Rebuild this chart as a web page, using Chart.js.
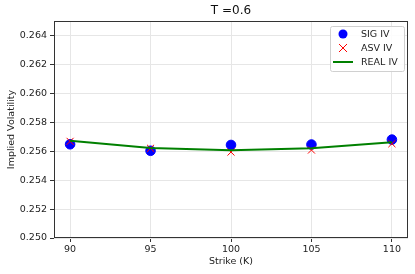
<!DOCTYPE html>
<html><head><meta charset="utf-8">
<script src="https://cdn.jsdelivr.net/npm/chart.js@4.4.1/dist/chart.umd.min.js"></script>
<style>html,body{margin:0;padding:0;background:#fff}#wrap{width:415px;height:274px;position:relative}</style>
</head><body><div id="wrap"><canvas id="c"></canvas></div>
<script>
const strikes = [90, 95, 100, 105, 110];
const sigIV  = [0.25648, 0.25603, 0.25643, 0.25646, 0.25680];
const asvIV  = [0.25668, 0.25620, 0.25594, 0.25608, 0.25652];
const realIV = [0.25672, 0.25622, 0.25606, 0.25621, 0.25662];
const xTicks = [90, 95, 100, 105, 110];
const yTicks = [0.250, 0.252, 0.254, 0.256, 0.258, 0.260, 0.262, 0.264];
const titleText = 'T =0.6';
const xTitle = 'Strike (K)';
const yTitle = 'Implied Volatility';

const FONT = 'DejaVu Sans';
const FS = 9.5;
const pts = arr => strikes.map((x, i) => ({x, y: arr[i]}));

const customPlugin = {
  id: 'custom',
  afterDraw(chart) {
    const ctx = chart.ctx, a = chart.chartArea;
    ctx.save();
    // spines
    ctx.strokeStyle = '#333'; ctx.lineWidth = 1;
    ctx.strokeRect(Math.round(a.left) + 0.5, Math.round(a.top) + 0.5, Math.round(a.right - a.left) - 1, Math.round(a.bottom - a.top) - 1);
    // title
    ctx.fillStyle = '#111'; ctx.font = '12px "' + FONT + '"';
    ctx.textAlign = 'center'; ctx.textBaseline = 'middle';
    ctx.fillText(titleText, (a.left + a.right) / 2, 11);
    // axis titles
    ctx.fillStyle = '#222'; ctx.font = FS + 'px "' + FONT + '"';
    ctx.fillText(xTitle, (a.left + a.right) / 2, 262);
    ctx.save();
    ctx.translate(12, (a.top + a.bottom) / 2);
    ctx.rotate(-Math.PI / 2);
    ctx.fillText(yTitle, 0, 0);
    ctx.restore();
    // legend
    const bx = 330, by = 26, bw = 74, bh = 45;
    ctx.fillStyle = 'rgba(255,255,255,0.85)';
    ctx.strokeStyle = '#d0d0d0'; ctx.lineWidth = 1;
    ctx.beginPath();
    if (ctx.roundRect) ctx.roundRect(bx + 0.5, by + 0.5, bw, bh, 2); else ctx.rect(bx + 0.5, by + 0.5, bw, bh);
    ctx.fill(); ctx.stroke();
    const ds = chart.data.datasets;
    const rows = [34, 48, 62];
    ctx.font = FS + 'px "' + FONT + '"'; ctx.textAlign = 'left'; ctx.textBaseline = 'middle';
    ds.forEach((d, i) => {
      const y = rows[i], mx = 343;
      if (i === 0) {
        ctx.fillStyle = d.backgroundColor; ctx.beginPath(); ctx.arc(mx, y, 4.5, 0, Math.PI * 2); ctx.fill();
      } else if (i === 1) {
        ctx.strokeStyle = d.borderColor; ctx.lineWidth = 1;
        ctx.beginPath(); ctx.moveTo(mx - 4, y - 4); ctx.lineTo(mx + 4, y + 4); ctx.moveTo(mx + 4, y - 4); ctx.lineTo(mx - 4, y + 4); ctx.stroke();
      } else {
        ctx.strokeStyle = d.borderColor; ctx.lineWidth = 2;
        ctx.beginPath(); ctx.moveTo(333, y); ctx.lineTo(353, y); ctx.stroke();
      }
      ctx.fillStyle = '#222';
      ctx.fillText(d.label, 361, y + 0.5);
    });
    ctx.restore();
  }
};

new Chart(document.getElementById('c'), {
  type: 'scatter',
  data: {
    datasets: [
      {label: 'SIG IV', data: pts(sigIV), backgroundColor: 'blue', borderColor: 'blue', pointRadius: 4.8, pointStyle: 'circle', showLine: false, order: 2},
      {label: 'ASV IV', data: pts(asvIV), backgroundColor: 'red', borderColor: 'red', pointRadius: 5, pointStyle: 'cross', rotation: 45, pointBorderWidth: 1, showLine: false, order: 1},
      {label: 'REAL IV', data: pts(realIV), borderColor: 'green', backgroundColor: 'green', borderWidth: 2, pointRadius: 0, showLine: true, tension: 0, order: 0}
    ]
  },
  options: {
    responsive: true, maintainAspectRatio: false, animation: false,
    layout: {padding: {top: 21, right: 7, left: 0, bottom: 0}},
    plugins: {legend: {display: false}, title: {display: false}, tooltip: {enabled: false}},
    scales: {
      x: {
        type: 'linear', min: 89, max: 111,
        afterBuildTicks: s => { s.ticks = xTicks.map(v => ({value: v})); },
        afterFit: s => { s.height = 36; },
        grid: {color: '#e6e6e6', lineWidth: 1, tickLength: 4, tickColor: '#333', drawOnChartArea: true},
        border: {display: false},
        ticks: {color: '#222', font: {family: FONT, size: FS}, padding: 2, maxRotation: 0, callback: v => String(v)},
        title: {display: false}
      },
      y: {
        type: 'linear', min: 0.250, max: 0.265,
        afterBuildTicks: s => { s.ticks = yTicks.map(v => ({value: v})); },
        afterFit: s => { s.width = 54; },
        grid: {color: '#e6e6e6', lineWidth: 1, tickLength: 4, tickColor: '#333'},
        border: {display: false},
        ticks: {color: '#222', font: {family: FONT, size: FS}, padding: 3, callback: v => Number(v).toFixed(3)},
        title: {display: false}
      }
    }
  },
  plugins: [customPlugin]
});
</script></body></html>
